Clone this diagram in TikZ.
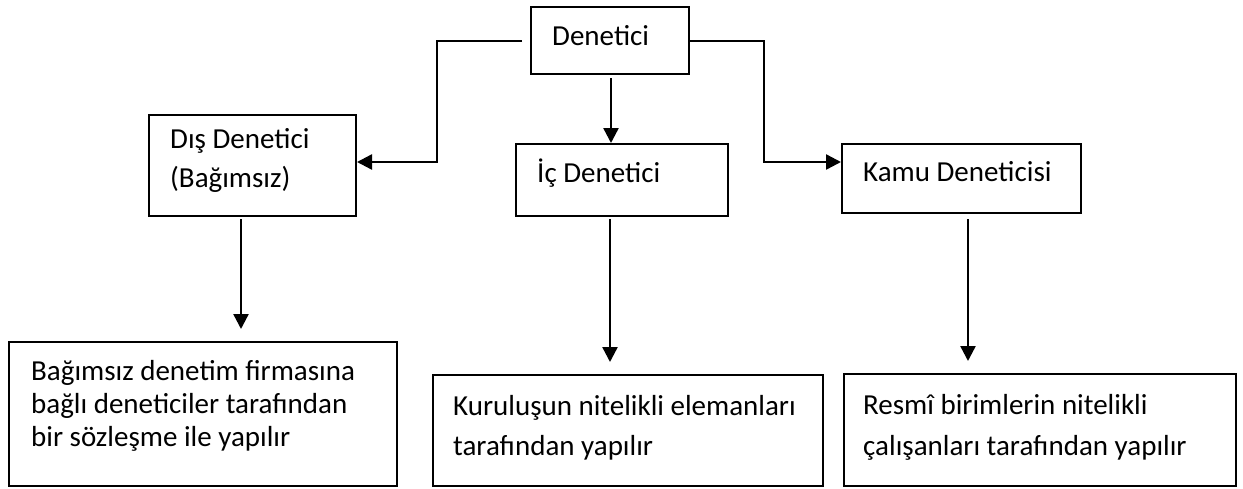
\documentclass[tikz,border=0pt]{standalone}
\usepackage{fontspec}
\setmainfont{Carlito}
\usetikzlibrary{arrows.meta,calc}
\begin{document}
\begin{tikzpicture}[x=1pt,y=-1pt,
  box/.style={draw, line width=2pt, inner sep=0pt, anchor=north west},
  txt/.style={anchor=base west, inner sep=0pt, align=left, font=\fontsize{29}{34}\selectfont},
  arr/.style={line width=2.4pt, -{Triangle[length=15pt,width=15pt]}}]
\useasboundingbox (0,0) rectangle (1243,488);
% boxes
\node[box, minimum width=158pt, minimum height=67pt] (den) at (530,6) {};
\node[box, minimum width=207pt, minimum height=101pt] (dis) at (148,114) {};
\node[box, minimum width=212pt, minimum height=72pt] (ic) at (515,143) {};
\node[box, minimum width=239pt, minimum height=69pt] (kamu) at (841,143) {};
\node[box, minimum width=388pt, minimum height=144pt] (b1) at (8,341) {};
\node[box, minimum width=390pt, minimum height=111pt] (b2) at (432,374) {};
\node[box, minimum width=392pt, minimum height=112pt] (b3) at (843,373) {};
% texts (anchored at the baseline of the last line)
\node[txt] (dent) at (552,45) {Denetici};
\node[txt, font=\fontsize{29}{39}\selectfont] (dist) at (170,187) {Dış Denetici\\(Bağımsız)};
\node[txt] (ict) at (537,182) {İç Denetici};
\node[txt] (kamut) at (863,181) {Kamu Deneticisi};
\node[txt, font=\fontsize{29}{33}\selectfont] (b1t) at (31,446) {Bağımsız denetim firmasına\\bağlı deneticiler tarafından\\bir sözleşme ile yapılır};
\node[txt, font=\fontsize{29}{40}\selectfont] (b2t) at (453,455) {Kuruluşun nitelikli elemanları\\tarafından yapılır};
\node[txt, font=\fontsize{29}{41}\selectfont] (b3t) at (863,455) {Resmî birimlerin nitelikli\\çalışanları tarafından yapılır};
% connectors
\coordinate (lstart) at (522,41);
\coordinate (lbend) at (437,41);
\coordinate (rbend) at (764,41);
\draw[arr] (lstart) -- (lbend) -- (lbend |- 0,162) -- (dis.east |- 0,162);
\draw[arr] (den.east |- 0,41) -- (rbend) -- (rbend |- 0,162) -- (kamu.west |- 0,162);
\coordinate (c1) at (611,78);
\coordinate (c2) at (241,219);
\coordinate (c3) at (610,219);
\coordinate (c4) at (968,219);
\draw[arr] (c1) -- (c1 |- ic.north);
\draw[arr, shorten >=12pt] (c2) -- (c2 |- b1.north);
\draw[arr, shorten >=12pt] (c3) -- (c3 |- b2.north);
\draw[arr, shorten >=12pt] (c4) -- (c4 |- b3.north);
\end{tikzpicture}
\end{document}
